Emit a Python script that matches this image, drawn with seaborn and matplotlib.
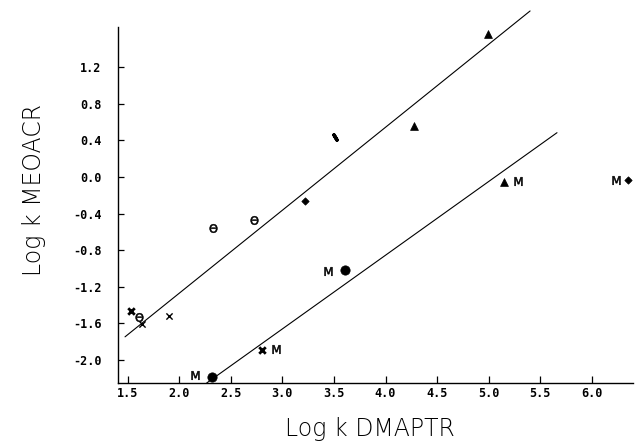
import matplotlib
matplotlib.use("Agg")
import matplotlib.pyplot as plt
import seaborn as sns
import pandas as pd

# ---- data ----
tri_x = [4.99, 4.275, 5.146]
tri_y = [1.557, 0.559, -0.052]
dot_x = [2.32, 3.61]
dot_y = [-2.18, -1.02]
dia_x = [3.223, 6.356]
dia_y = [-0.26, -0.03]
m_x = [5.28, 6.234, 3.442, 2.942, 2.151]
m_y = [-0.04, -0.03, -1.024, -1.88, -2.16]
theta_x = [2.323, 2.726, 1.609]
theta_y = [-0.561, -0.47, -1.53]
cross_x = [1.641, 1.897]
cross_y = [-1.609, -1.517]
bold_x = [2.807, 1.529]
bold_y = [-1.89, -1.464]
slash_x = [3.507]
slash_y = [0.432]

upper_fit_x = [1.474, 5.402]
upper_fit_y = [-1.746, 1.812]
lower_fit_x = [2.266, 5.663]
lower_fit_y = [-2.25, 0.483]

x_ticks = [1.5, 2.0, 2.5, 3.0, 3.5, 4.0, 4.5, 5.0, 5.5, 6.0]
y_ticks = [-2.0, -1.6, -1.2, -0.8, -0.4, 0.0, 0.4, 0.8, 1.2]
x_label = "Log k DMAPTR"
y_label = "Log k MEOACR"

sns.set_theme(style="white")
plt.rcParams["font.family"] = ["DejaVu Sans"]

fig = plt.figure(figsize=(6.35, 4.46), dpi=100)
ax = fig.add_axes([118 / 635, 63 / 446, 515 / 635, 356 / 446])

groups = [
    (tri_x, tri_y, dict(marker="^", s=32, color="black", edgecolor="black", linewidth=0.5)),
    (dot_x, dot_y, dict(marker="o", s=45, color="black", edgecolor="black", linewidth=0.5)),
    (dia_x, dia_y, dict(marker="D", s=14, color="black", edgecolor="black", linewidth=0.5)),
    (m_x, m_y, dict(marker="$\\mathrm{M}$", s=38, color="black", edgecolor="black", linewidth=0.4)),
    (theta_x, theta_y, dict(marker="$\\Theta$", s=38, color="black", edgecolor="black", linewidth=0.4)),
    (cross_x, cross_y, dict(marker="x", s=20, color="black", linewidth=1.0)),
    (bold_x, bold_y, dict(marker="x", s=22, color="black", linewidth=2.0)),
    (slash_x, slash_y, dict(marker=(2, 2, 30), s=18, color="black", linewidth=2.5)),
]
for gx, gy, kw in groups:
    sns.scatterplot(x=gx, y=gy, ax=ax, legend=False, clip_on=False, zorder=3, **kw)

for fx, fy in [(upper_fit_x, upper_fit_y), (lower_fit_x, lower_fit_y)]:
    sns.lineplot(x=fx, y=fy, ax=ax, color="black", linewidth=0.8,
                 legend=False, estimator=None, sort=False)
for ln in ax.lines:
    ln.set_clip_on(False)

ax.set_xlim(1.406, 6.40)
ax.set_ylim(-2.25, 1.637)
ax.set_xticks(x_ticks)
ax.set_yticks(y_ticks)
ax.set_xticklabels([f"{v:.1f}" for v in x_ticks], family="DejaVu Sans Mono",
                   fontsize=8.5, fontweight="bold")
ax.set_yticklabels([f"{v:.1f}" for v in y_ticks], family="DejaVu Sans Mono",
                   fontsize=8.5, fontweight="bold")
ax.tick_params(axis="x", direction="in", length=5, width=0.9, pad=3, colors="black")
ax.tick_params(axis="y", direction="in", length=4.5, width=0.9, pad=12, colors="black")
ax.tick_params(bottom=True, left=True)

for side in ["top", "right"]:
    ax.spines[side].set_visible(False)
for side in ["left", "bottom"]:
    ax.spines[side].set_color("black")
    ax.spines[side].set_linewidth(1.0)

ax.set_xlabel(x_label, fontsize=17, fontweight=200, color="black")
ax.set_ylabel(y_label, fontsize=17, fontweight=200, color="black")
ax.xaxis.set_label_coords(0.489, -0.095)
ax.yaxis.set_label_coords(-0.14, 0.542)

fig.savefig("out.png", dpi=100, facecolor="white")
